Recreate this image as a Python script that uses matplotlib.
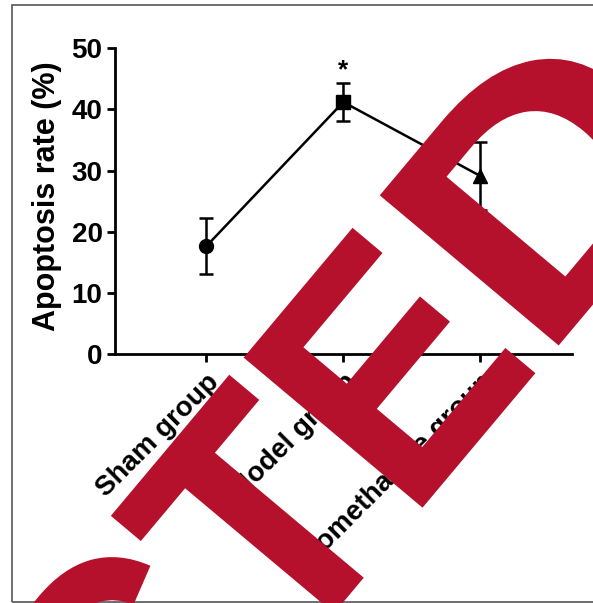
import matplotlib
matplotlib.use("Agg")
import matplotlib.pyplot as plt
import matplotlib.transforms as mtransforms
from matplotlib.font_manager import FontProperties
from matplotlib.patches import PathPatch, Rectangle
from matplotlib.textpath import TextPath

plt.rcParams['font.family'] = ['Liberation Sans', 'DejaVu Sans']
plt.rcParams['font.weight'] = 'bold'

# group means and SD of apoptosis rate
groups = ["Sham group", "Model group", "Promethazine group"]
means = [17.6, 41.2, 29.1]
sds = [4.6, 3.1, 5.6]
markers = ["o", "s", "^"]
stars = ["", "*", "*"]

fig = plt.figure(figsize=(5.93, 6.03), dpi=100)
ax = fig.add_axes([0.194, 0.413, 0.771, 0.507])

x = list(range(len(groups)))
ax.plot(x, means, color="black", lw=1.8, zorder=2)
for xi, m, s, mk, st in zip(x, means, sds, markers, stars):
    ax.errorbar(xi, m, yerr=s, fmt=mk, color="black", ms=10,
                capsize=5, elinewidth=1.8, capthick=1.8, zorder=3)
    if st:
        ax.text(xi, m + s + 0.1, st, ha="center", va="bottom",
                fontsize=19, fontweight="bold")

ax.set_xlim(-0.665, 2.67)
ax.set_ylim(0, 50)
ax.set_yticks([0, 10, 20, 30, 40, 50])
ax.set_xticks(x)
ax.set_xticklabels(groups, rotation=45, ha="right", rotation_mode="anchor",
                   fontsize=20, fontweight="bold")
# nudge the slanted labels a little up and left
shift = mtransforms.ScaledTranslation(-6 / 100, 8 / 100, fig.dpi_scale_trans)
for lab in ax.get_xticklabels():
    lab.set_transform(lab.get_transform() + shift)
ax.tick_params(axis="y", labelsize=20, width=2, length=6, pad=3)
ax.tick_params(axis="x", width=2, length=6, pad=5)
for lab in ax.get_yticklabels():
    lab.set_fontweight("bold")
ax.set_ylabel("Apoptosis rate (%)", fontsize=22, fontweight="bold")
ax.yaxis.set_label_coords(-0.116, 0.516)

for side in ["top", "right"]:
    ax.spines[side].set_visible(False)
for side in ["left", "bottom"]:
    ax.spines[side].set_linewidth(2)

# page frame
fig.patches.append(Rectangle((12 / 593, 1 / 603), 1.0, 597 / 603,
                             transform=fig.transFigure, fill=False,
                             edgecolor="#555555", lw=1.2))

# retraction stamp: tall bold letters, the final D a bit wider
red = "#B5112C"
prop = FontProperties(family="Liberation Sans", weight="bold")
word = TextPath((0, 0), "RETRACTED", size=1, prop=prop)
d_only = TextPath((0, 0), "D", size=1, prop=prop)
d_start = word.get_extents().x1 - d_only.get_extents().x1
head = TextPath((0, 0), "RETRACTE", size=1, prop=prop)

sx, sy, sx_d = 310, 337, 385      # pixels per em
angle = 50
origin = (542, 603 - 364)         # baseline start of the D, in pixels

head_tr = (mtransforms.Affine2D().translate(-d_start, 0).scale(sx, sy)
           .rotate_deg(angle).translate(*origin))
d_tr = mtransforms.Affine2D().scale(sx_d, sy).rotate_deg(angle).translate(*origin)
for path, tr in [(head, head_tr), (d_only, d_tr)]:
    fig.add_artist(PathPatch(path, transform=tr, facecolor=red,
                             edgecolor=red, lw=1.2, zorder=10))

fig.savefig("out.png", dpi=100)
